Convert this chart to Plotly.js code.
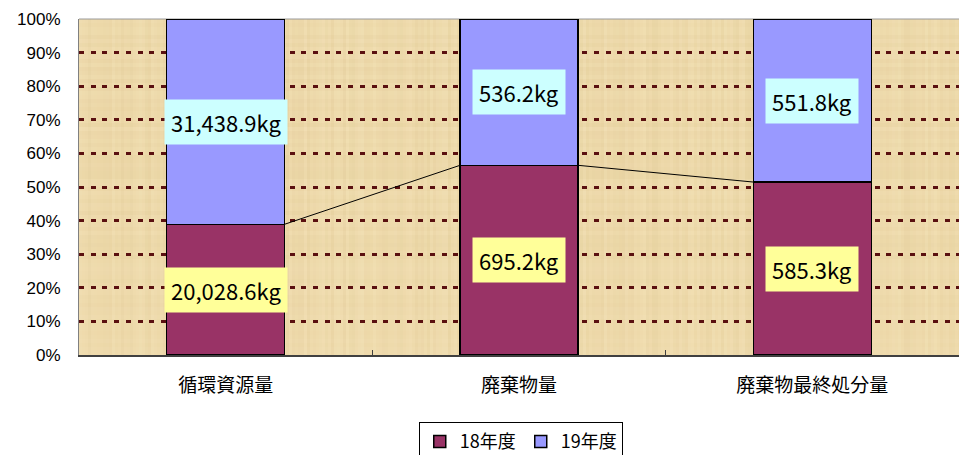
<!DOCTYPE html>
<html>
<head>
<meta charset="utf-8">
<script src="https://cdn.plot.ly/plotly-3.0.1.min.js"></script>
<style>
  html, body { margin: 0; padding: 0; background: #fff; overflow: hidden; }
  #chart { width: 959px; height: 470px; }
</style>
</head>
<body>
<div id="chart"></div>
<script>
// Categories and yearly amounts (kg)
const categories = ['循環資源量', '廃棄物量', '廃棄物最終処分量'];
const seriesNames = ['18年度', '19年度'];
const fy18 = [20028.6, 695.2, 585.3];
const fy19 = [31438.9, 536.2, 551.8];
const yTickVals = [0, 10, 20, 30, 40, 50, 60, 70, 80, 90, 100];
const yTickText = ['0%', '10%', '20%', '30%', '40%', '50%', '60%', '70%', '80%', '90%', '100%'];

// Styling constants
const colors = ['#993366', '#9999FF'];
const labelBg = ['#FFFF99', '#CCFFFF'];
const barGap = 0.598;
const halfBar = (1 - barGap) / 2;

// Shares within each category (for label and connector placement)
const share18 = fy18.map((v, i) => v / (v + fy19[i]) * 100);
const share19 = fy19.map((v, i) => v / (v + fy18[i]) * 100);

const fmt = v => v.toLocaleString('en-US', { minimumFractionDigits: 1, maximumFractionDigits: 1 }) + 'kg';

// Soft burlap-like plot background drawn on a canvas
function makeTexture(w, h) {
  const c = document.createElement('canvas');
  c.width = w; c.height = h;
  const g = c.getContext('2d');
  g.fillStyle = '#eedaab';
  g.fillRect(0, 0, w, h);
  const hash = n => { const s = Math.sin(n * 127.1 + 311.7) * 43758.5453; return s - Math.floor(s); };
  for (let x = 0; x < w; x += 3) {
    const a = hash(x * 0.37) * 0.12;
    g.fillStyle = hash(x * 1.7) > 0.5 ? `rgba(252,242,215,${a})` : `rgba(205,178,120,${a * 0.8})`;
    g.fillRect(x, 0, 3, h);
  }
  for (let y = 0; y < h; y += 4) {
    const a = hash(y * 0.91 + 5) * 0.08;
    g.fillStyle = hash(y * 2.3) > 0.5 ? `rgba(252,242,215,${a})` : `rgba(205,178,120,${a})`;
    g.fillRect(0, y, w, 4);
  }
  return c.toDataURL();
}

const traces = [
  {
    type: 'bar', name: seriesNames[0], x: categories, y: fy18,
    marker: { color: colors[0], line: { color: '#000', width: 1.5 } },
    hoverinfo: 'skip'
  },
  {
    type: 'bar', name: seriesNames[1], x: categories, y: fy19,
    marker: { color: colors[1], line: { color: '#000', width: 1.5 } },
    hoverinfo: 'skip'
  }
];

// Series lines joining the tops of the 18年度 segments
for (let i = 0; i < categories.length - 1; i++) {
  traces.push({
    type: 'scatter', mode: 'lines', xaxis: 'x2', yaxis: 'y',
    x: [i + halfBar, i + 1 - halfBar], y: [share18[i], share18[i + 1]],
    line: { color: '#000', width: 1 }, showlegend: false, hoverinfo: 'skip'
  });
}

const labelFont = { family: 'Noto Sans CJK JP', size: 22, color: '#000' };
const annotations = [];
categories.forEach((cat, i) => {
  annotations.push({
    x: cat, y: share18[i] / 2, xref: 'x', yref: 'y', text: fmt(fy18[i]),
    showarrow: false, bgcolor: labelBg[0], borderpad: 6, font: labelFont
  });
  annotations.push({
    x: cat, y: share18[i] + share19[i] / 2, xref: 'x', yref: 'y', text: fmt(fy19[i]),
    showarrow: false, bgcolor: labelBg[1], borderpad: 6, font: labelFont
  });
});

const layout = {
  width: 959, height: 470,
  margin: { l: 79, r: 0, t: 19, b: 115 },
  paper_bgcolor: '#ffffff',
  plot_bgcolor: '#eedaab',
  barmode: 'stack', barnorm: 'percent', bargap: barGap,
  showlegend: true,
  legend: {
    orientation: 'h', x: 0.502, xanchor: 'center', y: -0.2, yanchor: 'top',
    traceorder: 'normal', bordercolor: '#000', borderwidth: 1, bgcolor: '#fff',
    font: { family: 'Noto Sans CJK JP', size: 18, color: '#000' },
    itemwidth: 30
  },
  xaxis: {
    type: 'category', range: [-0.5, 2.5], tickson: 'boundaries',
    ticks: 'inside', ticklen: 5, tickcolor: '#404040', tickwidth: 1,
    showline: true, linecolor: '#404040', linewidth: 2, mirror: false,
    showgrid: false, ticklabelstandoff: 12,
    tickfont: { family: 'Noto Sans CJK JP', size: 19, color: '#000' }
  },
  xaxis2: {
    overlaying: 'x', range: [-0.5, 2.5], visible: false
  },
  yaxis: {
    range: [0, 100], tickvals: yTickVals, ticktext: yTickText,
    showline: true, linecolor: '#808080', linewidth: 1,
    ticks: '', showgrid: true, gridcolor: '#5a1010', gridwidth: 3,
    griddash: '5px,6.7px', zeroline: false, ticklabelstandoff: 14,
    tickfont: { family: 'Liberation Sans', size: 17, color: '#000' }
  },
  images: [{
    source: makeTexture(880, 336), xref: 'paper', yref: 'paper',
    x: 0, y: 1, sizex: 1, sizey: 1, sizing: 'stretch', layer: 'below'
  }],
  shapes: [{
    type: 'line', xref: 'paper', yref: 'paper', x0: 0, x1: 1, y0: 1, y1: 1,
    line: { color: '#9a9a9a', width: 1 }, layer: 'below'
  }],
  annotations: annotations
};

Plotly.newPlot('chart', traces, layout, { displayModeBar: false, staticPlot: true });
</script>
</body>
</html>
